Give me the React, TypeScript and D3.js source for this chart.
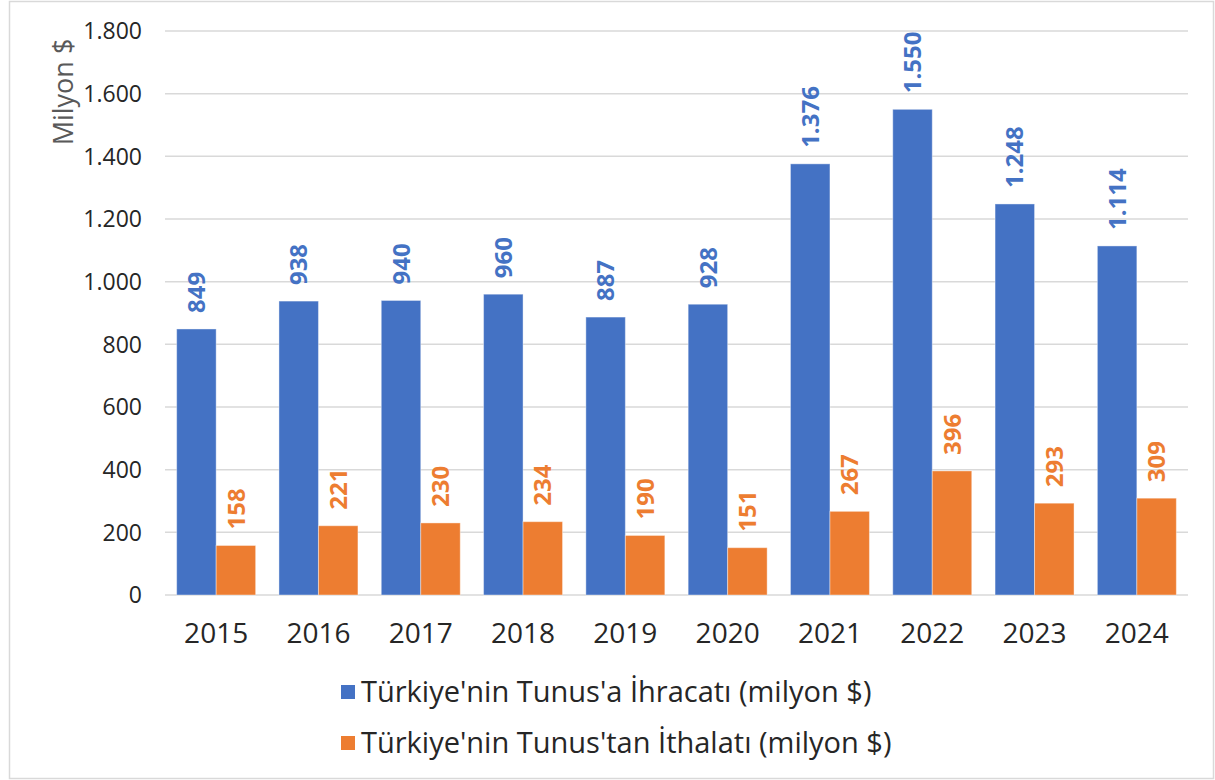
import React from "react";
import * as d3 from "d3";

const years = ["2015", "2016", "2017", "2018", "2019", "2020", "2021", "2022", "2023", "2024"];
const exportsTn = [849, 938, 940, 960, 887, 928, 1376, 1550, 1248, 1114];
const importsTn = [158, 221, 230, 234, 190, 151, 267, 396, 293, 309];
const seriesNames = [
  "Türkiye'nin Tunus'a İhracatı (milyon $)",
  "Türkiye'nin Tunus'tan İthalatı (milyon $)",
];
const yTicks = [0, 200, 400, 600, 800, 1000, 1200, 1400, 1600, 1800];

const W = 1215;
const H = 780;
const colors = ["#4472C4", "#ED7D31"];
const font = "'Open Sans', 'DejaVu Sans', sans-serif";

const trFormat = d3.formatLocale({
  decimal: ",",
  thousands: ".",
  grouping: [3],
  currency: ["", "$"],
}).format(",d");

export default function App() {
  const margin = { top: 31, right: 27, bottom: 185, left: 165 };
  const plotW = W - margin.left - margin.right;
  const plotH = H - margin.top - margin.bottom;

  const x = d3.scaleBand().domain(years).range([0, plotW]).paddingInner(0.228).paddingOuter(0.114);
  const x1 = d3.scaleBand().domain(["0", "1"]).range([0, x.bandwidth()]);
  const y = d3.scaleLinear().domain([0, 1800]).range([plotH, 0]);

  const series = [exportsTn, importsTn];

  return (
    <svg width={W} height={H} style={{ position: "absolute", left: 0, top: 0, background: "#fff" }}>
      <rect x={9.5} y={1.5} width={W - 11} height={H - 3} fill="#fff" stroke="#D9D9D9" strokeWidth={1.5} />
      <g transform={`translate(${margin.left},${margin.top})`}>
        {yTicks.map((t) => (
          <g key={t}>
            <line x1={0} x2={plotW} y1={y(t)} y2={y(t)} stroke="#D9D9D9" strokeWidth={1.5} />
            <text x={-23} y={y(t)} dy="0.36em" textAnchor="end" fontSize={23} fontFamily={font} fill="#262626">
              {trFormat(t)}
            </text>
          </g>
        ))}
        {years.map((yr, i) => (
          <g key={yr} transform={`translate(${x(yr)},0)`}>
            {series.map((s, k) => {
              const v = s[i];
              const bx = x1(String(k))!;
              const bw = x1.bandwidth();
              return (
                <g key={k}>
                  <rect x={bx} y={y(v)} width={bw} height={plotH - y(v)} fill={colors[k]} stroke="#fff" strokeOpacity={0.4} strokeWidth={1} />
                  <text
                    transform={`translate(${bx + bw / 2},${y(v) - 16}) rotate(-90)`}
                    dy="0.36em"
                    textAnchor="start"
                    fontSize={24}
                    fontWeight="bold"
                    fontFamily={font}
                    fill={colors[k]}
                  >
                    {trFormat(v)}
                  </text>
                </g>
              );
            })}
            <text x={x.bandwidth() / 2} y={plotH + 48} textAnchor="middle" fontSize={28} fontFamily={font} fill="#262626">
              {yr}
            </text>
          </g>
        ))}
      </g>
      <text transform="translate(73,92) rotate(-90)" textAnchor="middle" fontSize={27} fontFamily={font} fill="#595959">
        Milyon $
      </text>
      {seriesNames.map((n, k) => (
        <g key={n} transform={`translate(341,${692 + k * 51})`}>
          <rect x={0} y={-7} width={14} height={14} fill={colors[k]} />
          <text x={20} y={0} dy="0.36em" fontSize={29} fontFamily={font} fill="#262626">
            {n}
          </text>
        </g>
      ))}
    </svg>
  );
}
